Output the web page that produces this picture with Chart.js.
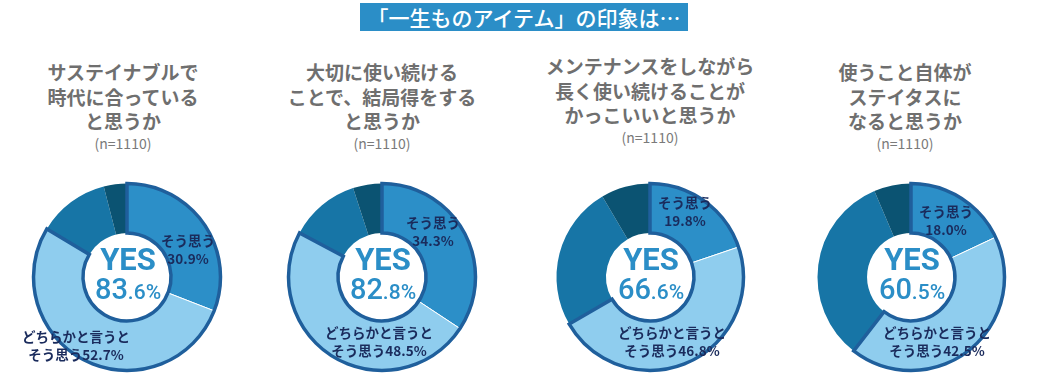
<!DOCTYPE html>
<html>
<head>
<meta charset="utf-8">
<script src="https://cdn.jsdelivr.net/npm/chart.js@4"></script>
<style>
  body { margin:0; width:1042px; height:386px; background:#fff; position:relative; overflow:hidden;
         font-family:"Noto Sans CJK JP","Noto Sans",sans-serif; }
  #title { position:absolute; left:360px; top:3px; width:328px; height:28px; background:#2b8ec7;
           color:#fff; font-size:21px; font-weight:500; line-height:28px; text-align:center; white-space:nowrap; }
  .q { position:absolute; width:250px; text-align:center; color:#6f6f6f; font-weight:700;
       font-size:19px; line-height:24.5px; }
  .q .n { font-size:14px; font-weight:400; line-height:18px; display:block; color:#7a7a7a; }
  canvas { position:absolute; }
</style>
</head>
<body>
<div id="title">「一生ものアイテム」の印象は…</div>
<script>
// 設問
var questions = [
  ["サステイナブルで", "時代に合っている", "と思うか"],
  ["大切に使い続ける", "ことで、結局得をする", "と思うか"],
  ["メンテナンスをしながら", "長く使い続けることが", "かっこいいと思うか"],
  ["使うこと自体が", "ステイタスに", "なると思うか"]
];
var sampleLabel = "(n=1110)";
// 回答カテゴリ
var categories = ["そう思う", "どちらかと言うとそう思う", "どちらかと言うとそう思わない", "そう思わない"];
// 値（%）
var agree      = [30.9, 34.3, 19.8, 18.0];
var ratherYes  = [52.7, 48.5, 46.8, 42.5];
var ratherNo   = [12.4, 12.2, 24.9, 33.1];
var disagree   = [4.0, 5.0, 8.5, 6.4];
var yesTotal   = [83.6, 82.8, 66.6, 60.5];

var colors = ["#2c8fc8", "#8fcdee", "#1775a6", "#0b5372"];
var outlineColor = "#1f5f9c";

// layout
var centersX = [127, 382, 650, 911];
var centerY = 277;
var qTops = [60, 60, 54, 60];
// label offsets from the chart centre [seg1 x,y, seg2 x,y]
var labelPos = [
  [[61, -27], [-51, 69]],
  [[51, -45], [-3, 65]],
  [[35, -65], [22, 65]],
  [[35, -56], [26, 65]]
];

questions.forEach(function(q, i){
  var d = document.createElement("div");
  d.className = "q";
  d.style.left = (centersX[i] - 125 - (i==0?4:0) + (i==3?-6:0)) + "px";
  d.style.top = qTops[i] + "px";
  d.innerHTML = q.join("<br>") + '<span class="n">' + sampleLabel + '</span>';
  document.body.appendChild(d);
});

var yesOutline = {
  id: "yesOutline",
  afterDatasetsDraw: function(chart){
    var meta = chart.getDatasetMeta(0);
    var a = meta.data[0], b = meta.data[1];
    var ctx = chart.ctx;
    ctx.save();
    ctx.beginPath();
    ctx.arc(a.x, a.y, a.outerRadius, a.startAngle, b.endAngle);
    ctx.arc(a.x, a.y, a.innerRadius, b.endAngle, a.startAngle, true);
    ctx.closePath();
    ctx.lineWidth = 3.5;
    ctx.lineJoin = "miter";
    ctx.strokeStyle = outlineColor;
    ctx.stroke();
    ctx.restore();
  }
};

var centerText = {
  id: "centerText",
  afterDraw: function(chart){
    var i = chart.options.plugins.centerText.index;
    var meta = chart.getDatasetMeta(0);
    var x = meta.data[0].x, y = meta.data[0].y;
    var ctx = chart.ctx;
    ctx.save();
    ctx.fillStyle = "#2b8ec7";
    ctx.textBaseline = "alphabetic";
    ctx.textAlign = "center";
    ctx.font = "700 31px Roboto, 'Noto Sans', sans-serif";
    ctx.fillText("YES", x + 1, y - 7);
    var parts = yesTotal[i].toFixed(1).split(".");
    var big = parts[0], small = "." + parts[1] + "%";
    ctx.font = "500 29px Roboto, 'Noto Sans', sans-serif";
    var w1 = ctx.measureText(big).width;
    ctx.font = "500 21px Roboto, 'Noto Sans', sans-serif";
    var w2 = ctx.measureText(small).width;
    var sx = x + 1 - (w1 + w2) / 2;
    ctx.textAlign = "left";
    ctx.font = "500 29px Roboto, 'Noto Sans', sans-serif";
    ctx.fillText(big, sx, y + 22);
    ctx.font = "500 21px Roboto, 'Noto Sans', sans-serif";
    ctx.fillText(small, sx + w1, y + 22);

    // segment labels
    ctx.textAlign = "center";
    ctx.fillStyle = "#1a2b5c";
    ctx.font = "700 13.5px 'Noto Sans CJK JP', sans-serif";
    var p = labelPos[i];
    ctx.fillText("そう思う", x + p[0][0], y + p[0][1] - 4);
    ctx.fillText(agree[i].toFixed(1) + "%", x + p[0][0], y + p[0][1] + 14);
    ctx.fillText("どちらかと言うと", x + p[1][0], y + p[1][1] - 4);
    ctx.fillText("そう思う" + ratherYes[i].toFixed(1) + "%", x + p[1][0], y + p[1][1] + 14);
    ctx.restore();
  }
};

centersX.forEach(function(cx, i){
  var c = document.createElement("canvas");
  c.width = 260; c.height = 220;
  c.style.left = (cx - 130) + "px";
  c.style.top = (centerY - 110) + "px";
  c.style.width = "260px"; c.style.height = "220px";
  document.body.appendChild(c);
  new Chart(c, {
    type: "doughnut",
    data: {
      labels: categories,
      datasets: [{
        data: [agree[i], ratherYes[i], ratherNo[i], disagree[i]],
        backgroundColor: colors,
        borderColor: "#ffffff",
        borderWidth: [1, 1, 0, 0]
      }]
    },
    options: {
      responsive: false,
      animation: false,
      cutout: "47%",
      layout: { padding: { top: 16, bottom: 16 } },
      plugins: {
        legend: { display: false },
        tooltip: { enabled: false },
        centerText: { index: i }
      }
    },
    plugins: [yesOutline, centerText]
  });
});
</script>
</body>
</html>
